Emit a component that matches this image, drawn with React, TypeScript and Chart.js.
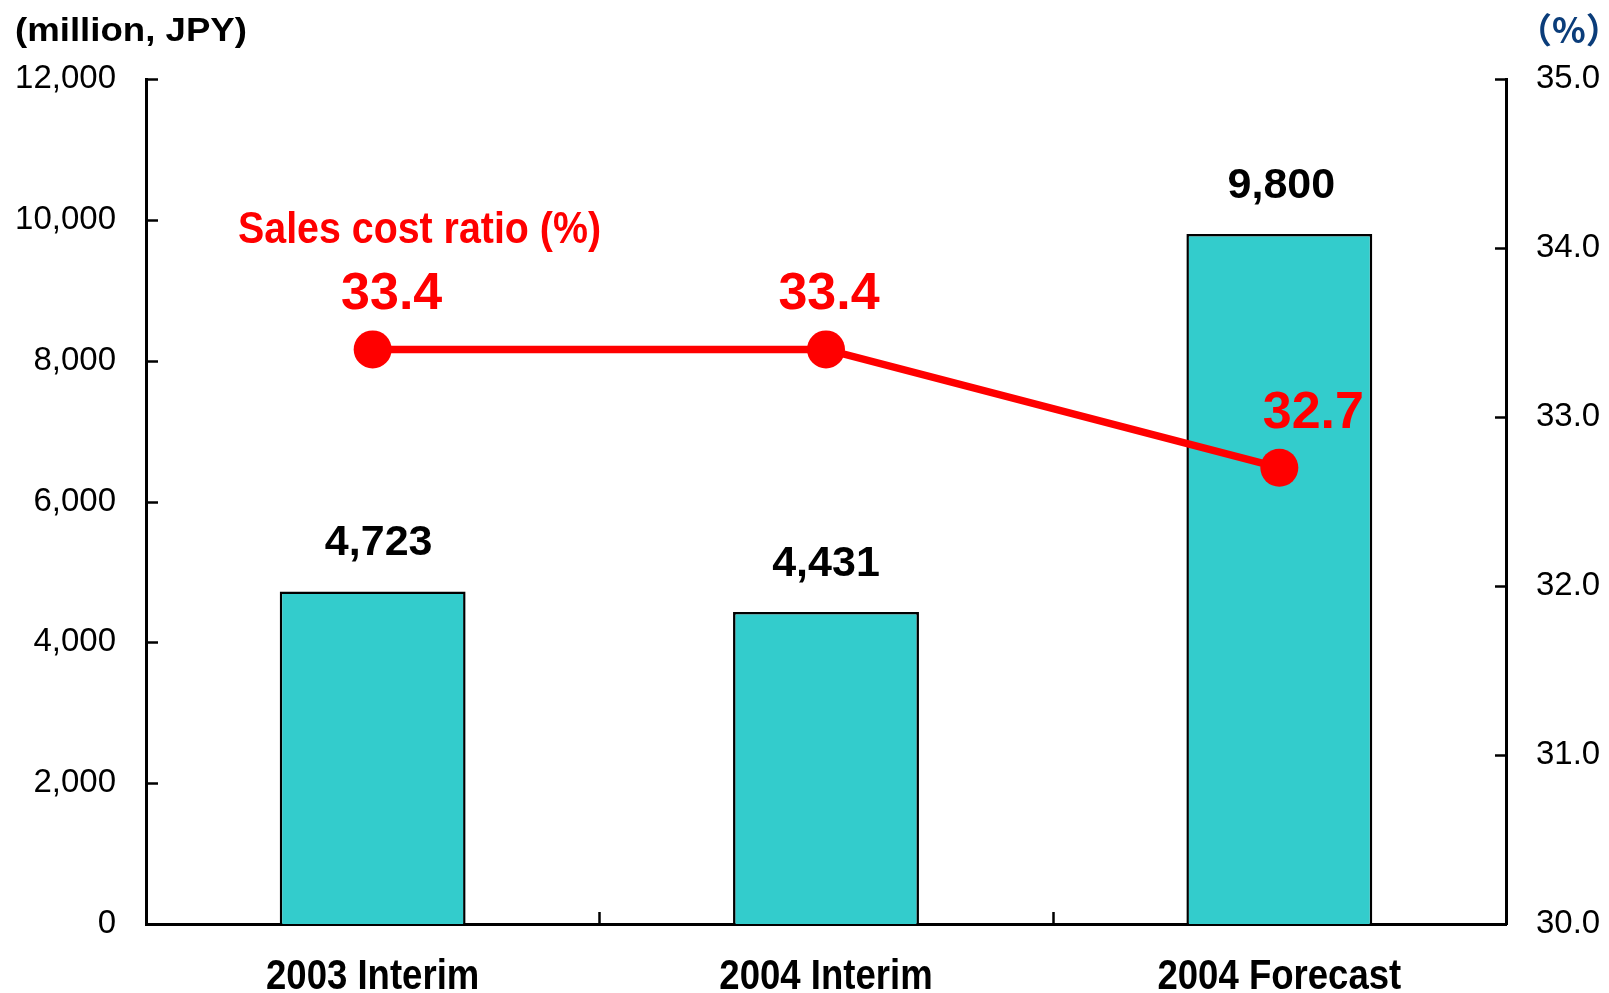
import { useEffect, useRef } from "react";
import { Chart, registerables } from "chart.js";

Chart.register(...registerables);

const categories = ["2003 Interim", "2004 Interim", "2004 Forecast"];
const salesValues = [4723, 4431, 9800];
const costRatio = [33.4, 33.4, 32.7];
const leftTickValues = [0, 2000, 4000, 6000, 8000, 10000, 12000];
const rightTickValues = [30, 31, 32, 33, 34, 35];

const leftTitle = "(million, JPY)";
const rightTitle = "（%）";
const lineTitle = "Sales cost ratio (%)";

const SANS = "'Liberation Sans', Arial, Helvetica, sans-serif";

function drawScaled(
  ctx: CanvasRenderingContext2D,
  text: string,
  x: number,
  y: number,
  sx: number,
  font: string,
  color: string,
  align: "left" | "center" = "left"
) {
  ctx.save();
  ctx.font = font;
  ctx.fillStyle = color;
  ctx.textBaseline = "alphabetic";
  ctx.textAlign = "left";
  const w = ctx.measureText(text).width * sx;
  const startX = align === "center" ? x - w / 2 : x;
  ctx.translate(startX, y);
  ctx.scale(sx, 1);
  ctx.fillText(text, 0, 0);
  ctx.restore();
}

function drawFitted(
  ctx: CanvasRenderingContext2D,
  text: string,
  x: number,
  y: number,
  width: number,
  font: string,
  color: string
) {
  ctx.save();
  ctx.font = font;
  const w = ctx.measureText(text).width;
  ctx.restore();
  drawScaled(ctx, text, x, y, width / w, font, color);
}

const decorPlugin = {
  id: "decor",
  afterDraw(chart: any, _args: any, opts: any) {
    const ctx: CanvasRenderingContext2D = chart.ctx;
    const area = chart.chartArea;
    const yScale = chart.scales.y;
    const y1Scale = chart.scales.y1;
    const xScale = chart.scales.x;

    ctx.save();
    ctx.strokeStyle = "#000";
    ctx.lineWidth = 2.5;
    ctx.lineCap = "butt";
    leftTickValues.forEach((v) => {
      const py = Math.round(yScale.getPixelForValue(v)) + 0.5;
      ctx.beginPath();
      ctx.moveTo(area.left, py);
      ctx.lineTo(area.left + 12, py);
      ctx.stroke();
    });
    rightTickValues.forEach((v) => {
      const py = Math.round(y1Scale.getPixelForValue(v)) + 0.5;
      ctx.beginPath();
      ctx.moveTo(area.right, py);
      ctx.lineTo(area.right - 11, py);
      ctx.stroke();
    });
    const n = categories.length;
    for (let i = 1; i < n; i++) {
      const px = Math.round((xScale.getPixelForValue(i - 1) + xScale.getPixelForValue(i)) / 2) + 0.5;
      ctx.beginPath();
      ctx.moveTo(px, area.bottom);
      ctx.lineTo(px, area.bottom - 12);
      ctx.stroke();
    }
    ctx.restore();

    // category labels (condensed bold)
    categories.forEach((c, i) => {
      drawScaled(ctx, c, xScale.getPixelForValue(i), area.bottom + opts.catBaseline, 0.85, `bold 43px ${SANS}`, "#000", "center");
    });

    // bar value labels
    const barMeta = chart.getDatasetMeta(1);
    ctx.save();
    ctx.font = `bold ${opts.barFont}px ${SANS}`;
    ctx.fillStyle = "#000";
    ctx.textAlign = "center";
    ctx.textBaseline = "alphabetic";
    barMeta.data.forEach((el: any, i: number) => {
      ctx.fillText(salesValues[i].toLocaleString("en-US"), el.x + opts.barDx[i], el.y - opts.barGap);
    });
    ctx.restore();

    // line value labels
    const lineMeta = chart.getDatasetMeta(0);
    ctx.save();
    ctx.font = `bold ${opts.lineFont}px ${SANS}`;
    ctx.fillStyle = "#FF0000";
    ctx.textAlign = "center";
    ctx.textBaseline = "alphabetic";
    lineMeta.data.forEach((el: any, i: number) => {
      ctx.fillText(costRatio[i].toFixed(1), el.x + opts.lineDx[i], el.y - opts.lineGap);
    });
    ctx.restore();

    // titles
    drawFitted(ctx, leftTitle, 15, 41, 232, `bold 34px ${SANS}`, "#000");

    ctx.save();
    ctx.font = `bold 35px 'Noto Sans CJK JP', ${SANS}`;
    ctx.fillStyle = "#0B3D7A";
    ctx.textAlign = "left";
    ctx.textBaseline = "alphabetic";
    ctx.fillText(rightTitle, 1517, 43);
    ctx.restore();

    drawFitted(ctx, lineTitle, 238, 243, 363, `bold 45px ${SANS}`, "#FF0000");
  },
};

export default function App() {
  const canvasRef = useRef<HTMLCanvasElement | null>(null);

  useEffect(() => {
    if (!canvasRef.current) return;
    Chart.defaults.font.family = SANS;
    const chart = new Chart(canvasRef.current, {
      type: "bar",
      data: {
        labels: categories,
        datasets: [
          {
            type: "line",
            label: lineTitle,
            data: costRatio,
            yAxisID: "y1",
            borderColor: "#FF0000",
            backgroundColor: "#FF0000",
            borderWidth: 7.5,
            pointRadius: 19,
            pointBackgroundColor: "#FF0000",
            pointBorderWidth: 0,
            tension: 0,
            order: 0,
          } as any,
          {
            type: "bar",
            label: "Sales cost",
            data: salesValues,
            yAxisID: "y",
            backgroundColor: "#33CCCC",
            borderColor: "#000000",
            borderWidth: 2.5,
            barPercentage: 0.41,
            categoryPercentage: 1,
            order: 1,
          },
        ],
      },
      options: {
        responsive: false,
        animation: false,
        layout: { padding: { top: 79, left: 0, right: 0, bottom: 0 } },
        plugins: {
          legend: { display: false },
          tooltip: { enabled: false },
          decor: {
            catBaseline: 65,
            barFont: 43,
            barGap: 36,
            barDx: [6, 0, 2],
            lineFont: 52,
            lineGap: 40,
            lineDx: [19, 3, 34],
          },
        } as any,
        scales: {
          x: {
            grid: { display: false, drawTicks: false },
            border: { color: "#000", width: 3 },
            ticks: { display: false },
            afterFit(scale: any) {
              scale.height = 69;
            },
          },
          y: {
            position: "left",
            min: 0,
            max: 12000,
            grid: { display: false, drawTicks: false },
            border: { color: "#000", width: 3 },
            ticks: {
              stepSize: 2000,
              color: "#000",
              font: { size: 33 },
              padding: 30,
              callback: (v: any) => Number(v).toLocaleString("en-US"),
            },
            afterFit(scale: any) {
              scale.width = 146;
            },
          },
          y1: {
            position: "right",
            min: 30,
            max: 35,
            grid: { display: false, drawTicks: false },
            border: { color: "#000", width: 3 },
            ticks: {
              stepSize: 1,
              color: "#000",
              font: { size: 33 },
              padding: 30,
              callback: (v: any) => Number(v).toFixed(1),
            },
            afterFit(scale: any) {
              scale.width = 103;
            },
          },
        },
      },
      plugins: [decorPlugin],
    });
    return () => chart.destroy();
  }, []);

  return (
    <div style={{ position: "absolute", left: 0, top: 0, width: 1609, height: 993, background: "#fff" }}>
      <canvas ref={canvasRef} width={1609} height={993} style={{ display: "block" }} />
    </div>
  );
}
